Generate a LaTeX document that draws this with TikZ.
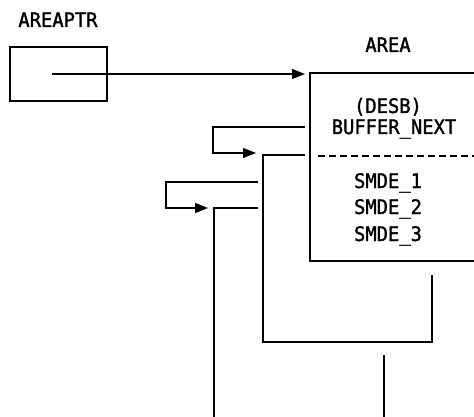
\documentclass[tikz,border=0pt]{standalone}
\usepackage{fontspec}
\usetikzlibrary{arrows.meta}
\newfontfamily\diafont[FakeStretch=0.94,FakeBold=1.5]{DejaVu Sans Mono}
\begin{document}
\begin{tikzpicture}[x=1pt,y=-1pt,
  lbl/.style={font=\diafont\fontsize{20}{22}\selectfont, anchor=base, inner sep=0pt},
  wire/.style={line width=1.3pt, line join=miter},
  arr/.style={wire, -{Triangle[length=13pt,width=10pt]}}]
\useasboundingbox (0,0) rectangle (474,417);
% pointer box
\node[lbl] (ptrlbl) at (58,27) {AREAPTR};
\node[draw, line width=1.3pt, minimum width=97pt, minimum height=54pt, inner sep=0pt] (ptrbox) at (58.5,74) {};
\coordinate (pstart) at (52,74);
% area box (open to the right)
\coordinate (atl) at (310,73);
\coordinate (abl) at (310,261);
\coordinate (atr) at (474,73);
\coordinate (abr) at (474,261);
\draw[wire] (atr) -- (atl) -- (abl) -- (abr);
\node[lbl] (arealbl) at (388,52) {AREA};
\node[lbl] (desb) at (388,113) {(DESB)};
\node[lbl] (bufnext) at (394,134) {BUFFER\_NEXT};
\coordinate (dl) at (318,156);
\coordinate (dr) at (474,156);
\draw[wire, dash pattern=on 7pt off 4pt] (dl) -- (dr);
\node[lbl] (s1) at (388,188) {SMDE\_1};
\node[lbl] (s2) at (388,214) {SMDE\_2};
\node[lbl] (s3) at (388,241) {SMDE\_3};
% pointer arrow
\coordinate (atip) at (305,74);
\draw[arr] (pstart) -- (atip);
% connector 1
\coordinate (c1a) at (305,127);
\coordinate (c1tip) at (256,153);
\draw[arr] (c1a) -- (213,127) -- (213,153) -- (c1tip);
\coordinate (c1b) at (305,155);
\coordinate (c1e) at (432,275);
\draw[wire] (c1b) -- (263,155) -- (263,342) -- (432,342) -- (c1e);
% connector 2
\coordinate (c2a) at (258,182);
\coordinate (c2tip) at (208,208);
\draw[arr] (c2a) -- (166,182) -- (166,208) -- (c2tip);
\coordinate (c2b) at (258,208);
\coordinate (c2e) at (214,417);
\draw[wire] (c2b) -- (214,208) -- (c2e);
% lone vertical
\coordinate (v1) at (384,355);
\coordinate (v2) at (384,417);
\draw[wire] (v1) -- (v2);
\end{tikzpicture}
\end{document}
